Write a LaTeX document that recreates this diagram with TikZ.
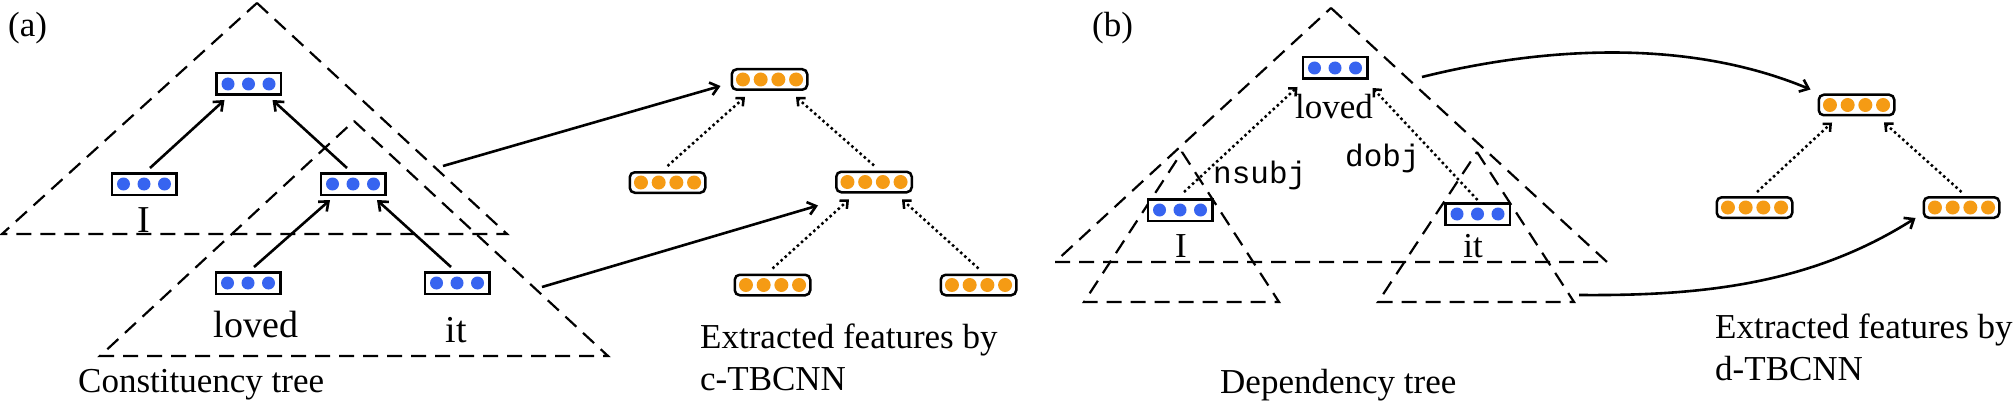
\documentclass[tikz,border=0pt]{standalone}
\usepackage{fontspec}
\setmainfont{Liberation Serif}
\newfontfamily\monofont{Liberation Mono}
\usetikzlibrary{arrows.meta,calc}
\definecolor{bdot}{RGB}{55,100,240}
\definecolor{odot}{RGB}{245,155,20}
\tikzset{
  bvec/.style={draw=black, line width=2.5pt, fill=white, minimum width=64.5pt, minimum height=21.5pt, inner sep=0pt},
  ovec/.style={draw=black, line width=2.5pt, fill=white, rounded corners=5pt, minimum width=75.5pt, minimum height=20.5pt, inner sep=0pt},
  tri/.style={line width=2.2pt, dash pattern=on 15pt off 9pt},
  tarrow/.style={line width=2.6pt, -{Straight Barb[length=8pt,width=13pt]}},
  darrow/.style={line width=2.5pt, dash pattern=on 2.5pt off 3pt, -{Straight Barb[length=6pt,width=11pt]}},
  bigword/.style={font=\fontsize{38}{40}\selectfont, anchor=base, inner sep=0pt},
  word/.style={font=\fontsize{35}{40}\selectfont, anchor=base, inner sep=0pt},
  txt/.style={font=\fontsize{35}{40}\selectfont, anchor=base west, inner sep=0pt},
  rel/.style={font=\monofont\fontsize{31}{34}\selectfont, anchor=base west, inner sep=0pt},
}
\newcommand\bluevec[3]{\node[bvec] (#1) at (#2,#3) {};
  \foreach \dd in {-1,0,1} {\fill[bdot] ($(#1)+(\dd*20.5,0)$) circle[radius=6.5pt];}}
\newcommand\orvec[3]{\node[ovec] (#1) at (#2,#3) {};
  \foreach \dd in {-1.5,-0.5,0.5,1.5} {\fill[odot] ($(#1)+(\dd*17.7,0)$) circle[radius=7pt];}}
\begin{document}
\begin{tikzpicture}[x=1pt,y=-1pt]
\useasboundingbox (0,0) rectangle (2016,401);
% ---------------- (a) constituency ----------------
\node[txt] (la) at (8,37) {(a)};
\draw[tri] (257,3) -- (507,234) -- (2,234) -- cycle;
\draw[tri] (354,121) -- (608,356) -- (100,356) -- cycle;
\coordinate (c1out) at (443,166);
\coordinate (c2out) at (542,287);

\bluevec{ctop}{248.5}{84}
\bluevec{cI}{144}{184}
\bluevec{cmid}{353}{184}
\bluevec{cloved}{248}{283}
\bluevec{cit}{457}{283}

\node[bigword] (lI) at (144,232) {I};
\node[bigword] (lloved) at (256,337) {loved};
\node[bigword] (lit) at (456,342) {it};
\node[txt] (lcons) at (78,392) {Constituency tree};

\draw[tarrow] ([xshift=6pt,yshift=4pt]cI.north) -- ([xshift=-24pt,yshift=-4pt]ctop.south);
\draw[tarrow] ([xshift=-6pt,yshift=4pt]cmid.north) -- ([xshift=24pt,yshift=-4pt]ctop.south);
\draw[tarrow] ([xshift=6pt,yshift=4pt]cloved.north) -- ([xshift=-23pt,yshift=-4pt]cmid.south);
\draw[tarrow] ([xshift=-6pt,yshift=4pt]cit.north) -- ([xshift=24pt,yshift=-4pt]cmid.south);

\orvec{otop}{769.5}{79.5}
\orvec{oleft}{667.5}{182.5}
\orvec{omid}{874}{182}
\orvec{obl}{772.5}{285}
\orvec{obr}{978.5}{285}

\draw[tarrow] (c1out) -- ([xshift=-10pt,yshift=5pt]otop.south west);
\draw[tarrow] (c2out) -- ([xshift=-17pt,yshift=-12pt]omid.south west);

\draw[darrow] ([yshift=5pt]oleft.north) -- ([xshift=-24.5pt,yshift=-6pt]otop.south);
\draw[darrow] ([yshift=5pt]omid.north) -- ([xshift=26.5pt,yshift=-6pt]otop.south);
\draw[darrow] ([yshift=5pt]obl.north) -- ([xshift=-25pt,yshift=-6pt]omid.south);
\draw[darrow] ([yshift=5pt]obr.north) -- ([xshift=28pt,yshift=-6pt]omid.south);

\node[txt] (lext1) at (700,348) {Extracted features by};
\node[txt] (lc) at (700,390) {c-TBCNN};

% ---------------- (b) dependency ----------------
\node[txt] (lb) at (1092,37) {(b)};
\draw[tri] (1331,8) -- (1607,262) -- (1055,262) -- cycle;
\draw[tri] (1182,152) -- (1279,302) -- (1084,302) -- cycle;
\draw[tri] (1477,152) -- (1574,302) -- (1378,302) -- cycle;
\coordinate (d1out) at (1422,77);
\coordinate (d2out) at (1579,295);

\bluevec{dloved}{1335}{68}
\bluevec{dI}{1180}{210}
\bluevec{dit}{1477.5}{214}

\node[word] (dlloved) at (1334,119) {loved};
\node[word] (dlI) at (1181,257) {I};
\node[word] (dlit) at (1473,257) {it};

\draw[darrow] ([xshift=4pt,yshift=6pt]dI.north) -- ([xshift=-4pt,yshift=-7pt]dloved.south west);
\draw[darrow] ([yshift=2pt]dit.north) -- ([xshift=4pt,yshift=-8pt]dloved.south east);
\node[rel] (lnsubj) at (1213,183) {nsubj};
\node[rel] (ldobj) at (1345,167) {dobj};

\node[txt] (ldep) at (1220,393) {Dependency tree};

\orvec{ptop}{1856.5}{105}
\orvec{pleft}{1754.5}{207.5}
\orvec{pright}{1961.5}{207.5}

\draw[darrow] ([xshift=2.5pt,yshift=4pt]pleft.north) -- ([xshift=-24.5pt,yshift=-6pt]ptop.south);
\draw[darrow] ([yshift=4pt]pright.north) -- ([xshift=27.5pt,yshift=-6pt]ptop.south);

\draw[tarrow] (d1out) .. controls (1530,50) and (1680,35) .. ([xshift=-7pt,yshift=4pt]ptop.north west);
\draw[tarrow] (d2out) .. controls (1700,296) and (1810,285) .. ([xshift=-7pt,yshift=1pt]pright.south west);

\node[txt] (lext2) at (1715,338) {Extracted features by};
\node[txt] (ld) at (1715,380) {d-TBCNN};
\end{tikzpicture}
\end{document}
